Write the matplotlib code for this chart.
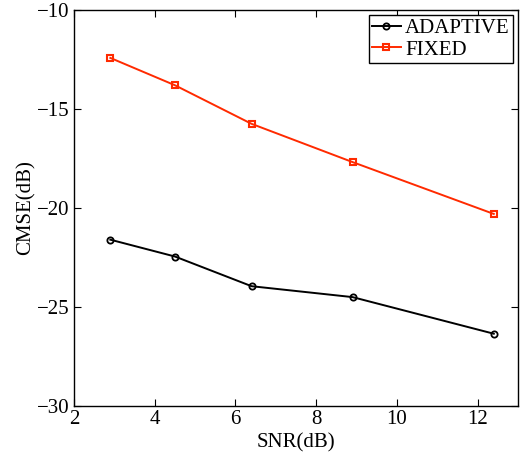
import matplotlib
matplotlib.use("Agg")
import matplotlib.pyplot as plt

snr = [2.9, 4.5, 6.4, 8.9, 12.4]
adaptive = [-21.6, -22.45, -23.95, -24.5, -26.35]
fixed = [-12.42, -13.8, -15.75, -17.68, -20.3]
xticks = [2, 4, 6, 8, 10, 12]
yticks = [-30, -25, -20, -15, -10]

plt.rcParams['font.family'] = ['Liberation Serif', 'DejaVu Serif']
plt.rcParams['axes.unicode_minus'] = True

fig = plt.figure(figsize=(5.24, 4.57), dpi=100)
ax = fig.add_axes([74/524, 1-406/457, (518-74)/524, (406-10)/457])

ax.plot(snr, adaptive, color='black', lw=1.4, marker='o', ms=4.5, mfc='none', mec='black', mew=1.3, label='ADAPTIVE')
ax.plot(snr, fixed, color='#ff2a00', lw=1.4, marker='s', ms=4.5, mfc='none', mec='#ff2a00', mew=1.5, label='FIXED')

ax.set_xlim(2, 13)
ax.set_ylim(-30, -10)
ax.set_xticks(xticks)
ax.set_yticks(yticks)
ax.tick_params(direction='in', top=True, right=True, labelsize=15, length=5, width=0.8, pad=3)
for s in ax.spines.values():
    s.set_linewidth(1.0)
ax.set_xlabel('SNR(dB)', fontsize=15, labelpad=3)
ax.set_ylabel('CMSE(dB)', fontsize=15, labelpad=1)
leg = ax.legend(loc='upper right', fontsize=15, fancybox=False, framealpha=1,
                edgecolor='black', borderaxespad=0.25, handlelength=1.4,
                handletextpad=0.2, borderpad=0.15, labelspacing=0.1)
leg.get_frame().set_linewidth(1.0)

fig.savefig('out.png', dpi=100)
